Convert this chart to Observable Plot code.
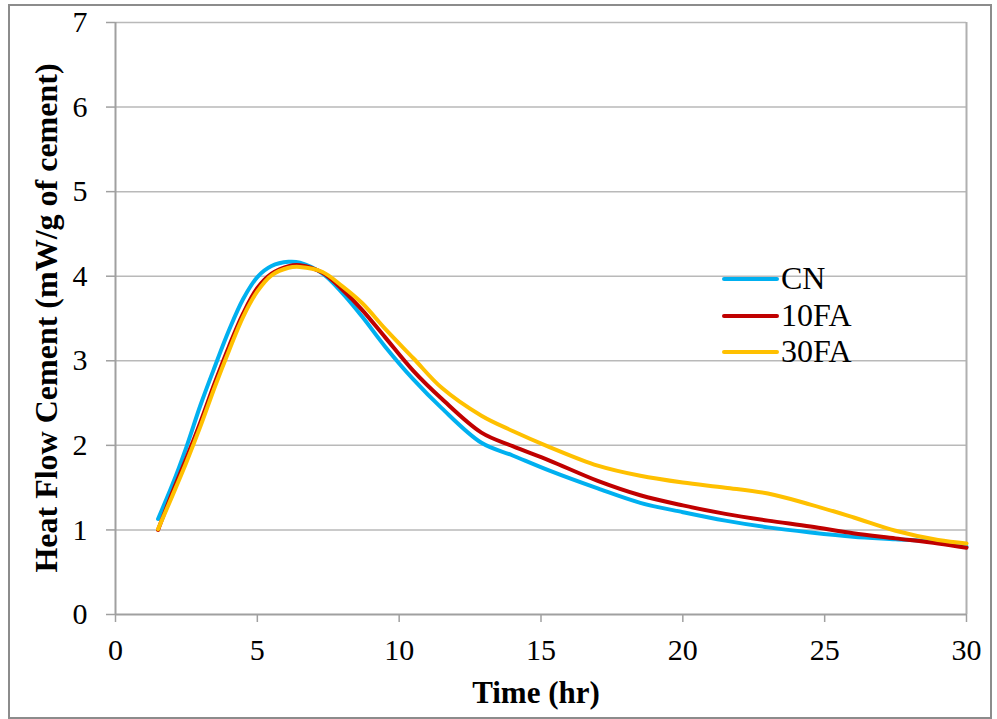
<!DOCTYPE html>
<html>
<head>
<meta charset="utf-8">
<script src="https://cdn.jsdelivr.net/npm/d3@7"></script>
<script src="https://cdn.jsdelivr.net/npm/@observablehq/plot@0.6"></script>
<style>
  html, body { margin: 0; padding: 0; background: #fff; }
  #wrap { position: relative; width: 997px; height: 719px; overflow: hidden; }
  #frame { position: absolute; left: 8px; top: 4px; width: 980px; height: 711px; border: 2px solid #8c8c8c; box-sizing: content-box; pointer-events: none; }
  #chart { position: absolute; left: 0; top: 0; }
  #chart svg, #chart svg text { font-family: 'Liberation Serif', 'Times New Roman', serif !important; }
  #overlay { position: absolute; left: 0; top: 0; }
</style>
</head>
<body>
<div id="wrap">
  <div id="chart"></div>
  <svg id="overlay" width="997" height="719"></svg>
  <div id="frame"></div>
</div>
<script>
// ---- data ----
const time = [1.5, 2.0, 2.5, 3.0, 3.5, 4.0, 4.5, 5.0, 5.5, 6.1, 6.5, 7.3, 8.0, 8.7, 9.5, 10.5, 11.5, 12.9, 14.0, 15.3, 17.0, 18.5, 20.0, 21.5, 23.0, 24.5, 26.0, 27.5, 29.0, 30.0];
const CN   = [1.13, 1.53, 1.98, 2.48, 2.93, 3.36, 3.73, 3.99, 4.12, 4.17, 4.16, 4.03, 3.80, 3.52, 3.17, 2.78, 2.44, 2.03, 1.88, 1.70, 1.49, 1.32, 1.21, 1.11, 1.03, 0.97, 0.92, 0.89, 0.86, 0.80];
const FA10 = [1.00, 1.44, 1.85, 2.28, 2.74, 3.17, 3.56, 3.86, 4.03, 4.12, 4.13, 4.04, 3.84, 3.60, 3.28, 2.88, 2.55, 2.15, 1.99, 1.82, 1.58, 1.41, 1.29, 1.19, 1.11, 1.04, 0.96, 0.90, 0.84, 0.79];
const FA30 = [1.01, 1.40, 1.80, 2.23, 2.69, 3.12, 3.52, 3.82, 4.01, 4.10, 4.11, 4.05, 3.88, 3.68, 3.38, 3.03, 2.68, 2.35, 2.17, 1.98, 1.76, 1.64, 1.56, 1.50, 1.43, 1.30, 1.15, 0.99, 0.88, 0.84];
const seriesNames = ["CN", "10FA", "30FA"];
const seriesColors = ["#00B0F0", "#C00000", "#FFC000"];
const xTicks = [0, 5, 10, 15, 20, 25, 30];
const yTicks = [0, 1, 2, 3, 4, 5, 6, 7];
const xTitle = "Time (hr)";
const yTitle = "Heat Flow Cement (mW/g of cement)";

const valuesBySeries = [CN, FA10, FA30];
const rows = [];
seriesNames.forEach((s, i) => {
  time.forEach((t, j) => rows.push({series: s, t, v: valuesBySeries[i][j]}));
});

const serif = "'Liberation Serif', 'Times New Roman', serif";
const chart = Plot.plot({
  width: 997,
  height: 719,
  marginLeft: 115,
  marginRight: 31,
  marginTop: 22,
  marginBottom: 105,
  style: {fontFamily: serif, fontSize: "30px", color: "#000", background: "transparent"},
  x: {domain: [0, 30], label: null},
  y: {domain: [0, 7], label: null},
  color: {domain: seriesNames, range: seriesColors},
  marks: [
    Plot.gridY(yTicks.filter(d => d > 0), {stroke: "#b9b9b9", strokeOpacity: 1, strokeWidth: 1.5}),
    Plot.ruleX([30], {stroke: "#b0b0b0", strokeWidth: 2}),
    Plot.axisX(xTicks, {tickSize: 8, tickPadding: 16, tickFormat: d3.format("d"), stroke: "#a0a0a0", strokeWidth: 1.5, fill: "#000", fontSize: 30, fontFamily: serif}),
    Plot.axisY(yTicks, {tickSize: 9, tickPadding: 19, tickFormat: d3.format("d"), stroke: "#a0a0a0", strokeWidth: 1.5, fill: "#000", fontSize: 30, fontFamily: serif}),
    Plot.ruleY([0], {stroke: "#a0a0a0", strokeWidth: 2}),
    Plot.ruleX([0], {stroke: "#a0a0a0", strokeWidth: 2}),
    Plot.line(rows, {x: "t", y: "v", z: "series", stroke: "series", strokeWidth: 4, curve: "catmull-rom"})
  ]
});
document.getElementById("chart").appendChild(chart);

// ---- titles and legend (overlay text) ----
const ov = d3.select("#overlay");
ov.append("text")
  .attr("x", 536).attr("y", 703)
  .attr("text-anchor", "middle")
  .attr("font-family", serif).attr("font-weight", "bold").attr("font-size", 31)
  .text(xTitle);
ov.append("text")
  .attr("transform", "translate(57,318) rotate(-90)")
  .attr("text-anchor", "middle")
  .attr("font-family", serif).attr("font-weight", "bold").attr("font-size", 32)
  .text(yTitle);

const legY = [279, 316, 352];
seriesNames.forEach((s, i) => {
  ov.append("line")
    .attr("x1", 724).attr("x2", 777)
    .attr("y1", legY[i]).attr("y2", legY[i])
    .attr("stroke", seriesColors[i]).attr("stroke-width", 4).attr("stroke-linecap", "round");
  ov.append("text")
    .attr("x", 781).attr("y", legY[i] + 10)
    .attr("font-family", serif).attr("font-size", 32)
    .text(s);
});
</script>
</body>
</html>
